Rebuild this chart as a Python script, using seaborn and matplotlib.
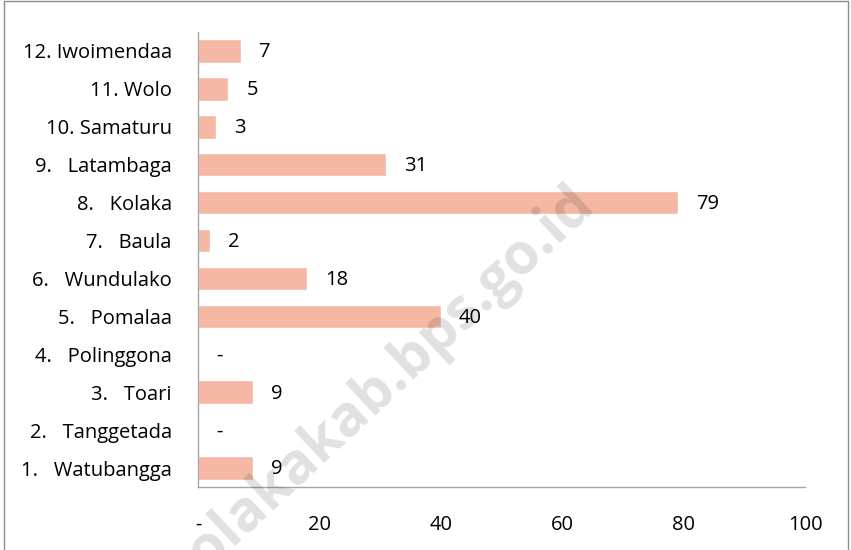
import matplotlib
matplotlib.use("Agg")
import matplotlib.pyplot as plt
import seaborn as sns
import pandas as pd
from matplotlib.lines import Line2D

categories = ["12. Iwoimendaa", "11. Wolo", "10. Samaturu", "9.   Latambaga",
              "8.   Kolaka", "7.   Baula", "6.   Wundulako", "5.   Pomalaa",
              "4.   Polinggona", "3.   Toari", "2.   Tanggetada", "1.   Watubangga"]
values = [7, 5, 3, 31, 79, 2, 18, 40, 0, 9, 0, 9]
xticks = [0, 20, 40, 60, 80, 100]
xtick_labels = ["-", "20", "40", "60", "80", "100"]

sns.set_theme(style="white")
plt.rcParams["font.family"] = ["Open Sans", "DejaVu Sans"]

df = pd.DataFrame({"cat": categories, "val": values})

fig = plt.figure(figsize=(8.51, 5.5), dpi=100)
ax = fig.add_axes([0.2327, 0.1145, 0.7133, 0.8273])

sns.barplot(data=df, y="cat", x="val", orient="h", color="#F4B8A4",
            saturation=1, width=0.62, ax=ax)

ax.set_xlim(0, 100)
ax.set_xticks(xticks)
ax.set_xticklabels(xtick_labels)
ax.set_xlabel("")
ax.set_ylabel("")
ax.tick_params(axis="both", length=0, labelsize=14.5, colors="black")
ax.tick_params(axis="x", pad=20)
ax.tick_params(axis="y", pad=19)

for s in ["top", "right"]:
    ax.spines[s].set_visible(False)
for s in ["left", "bottom"]:
    ax.spines[s].set_color("#a6a6a6")
    ax.spines[s].set_linewidth(1.0)

for i, v in enumerate(values):
    lbl = "-" if v == 0 else str(v)
    ax.annotate(lbl, xy=(v, i), xytext=(13, -1), textcoords="offset points",
                ha="left", va="center", fontsize=14.5, color="black")

# watermark (anchored at its right end, on the baseline)
fig.text(596 / 851, 1 - 206 / 550, "kolakakab.bps.go.id", rotation=43,
         fontsize=41, fontweight="bold", color="#000000", alpha=0.12,
         ha="right", va="baseline", rotation_mode="anchor", zorder=10)

# figure border (left, top, right)
for xs, ys in [([0.005, 0.005], [0, 0.998]), ([0.005, 0.997], [0.998, 0.998]),
               ([0.997, 0.997], [0, 0.998])]:
    fig.add_artist(Line2D(xs, ys, transform=fig.transFigure, color="#8c8c8c",
                          linewidth=1.0))

fig.savefig("out.png", dpi=100)
